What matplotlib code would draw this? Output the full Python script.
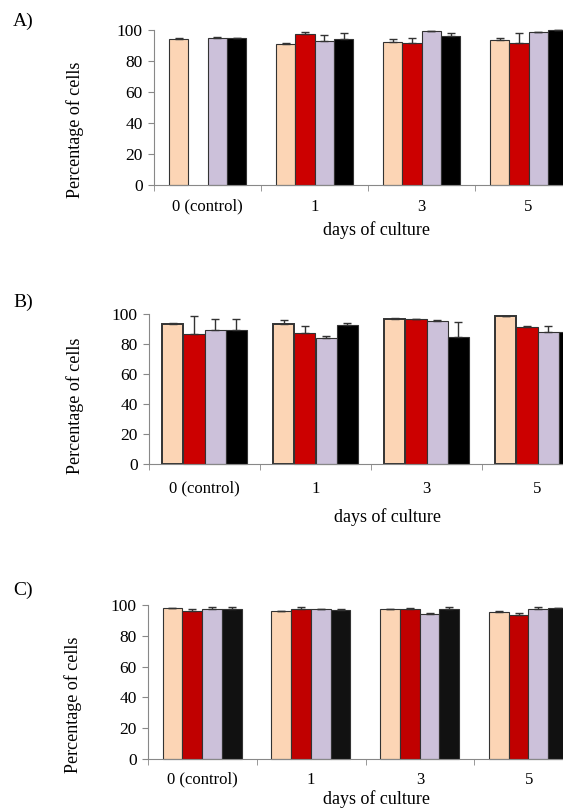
import numpy as np
import matplotlib
matplotlib.use("Agg")
import matplotlib.pyplot as plt

plt.rcParams['font.family'] = ['Liberation Serif', 'DejaVu Serif']

days = ["0 (control)", "1", "3", "5"]

# panel A: mean and upper error per group, one list per series
a_peach = [94.3, 91.2, 92.0, 93.5]
a_red = [np.nan, 97.4, 91.8, 91.6]
a_lilac = [94.9, 92.9, 99.1, 98.5]
a_black = [94.9, 94.0, 96.1, 99.8]
a_peach_err = [0.4, 0.5, 2.2, 1.2]
a_red_err = [0.0, 1.0, 2.8, 6.5]
a_lilac_err = [0.4, 4.0, 0.5, 0.3]
a_black_err = [0.0, 4.0, 2.0, 0.0]

# panel B
b_peach = [93.6, 93.1, 96.7, 98.5]
b_red = [86.4, 87.4, 96.5, 91.3]
b_lilac = [89.2, 83.8, 95.4, 88.3]
b_black = [89.2, 92.7, 84.5, 88.2]
b_peach_err = [0.4, 2.7, 0.4, 0.0]
b_red_err = [12.2, 4.8, 0.4, 0.4]
b_lilac_err = [7.3, 1.6, 0.9, 3.6]
b_black_err = [7.3, 1.4, 10.0, 0.0]

# panel C
c_peach = [97.9, 96.1, 97.4, 95.7]
c_red = [96.3, 97.2, 97.4, 93.5]
c_lilac = [97.2, 97.2, 94.4, 97.4]
c_black = [97.2, 97.0, 97.4, 97.8]
c_peach_err = [0.3, 0.3, 0.3, 0.3]
c_red_err = [0.9, 1.2, 0.9, 1.5]
c_lilac_err = [1.2, 0.3, 0.3, 1.6]
c_black_err = [1.2, 0.3, 1.6, 0.3]


def panel(fig, rect, series, errs, colors, edgew, bw, off, pad, ylab_pos, xlab_pos):
    ax = fig.add_axes(rect)
    x = np.arange(len(days))
    for k in range(4):
        pos = x + off + bw * k
        ax.bar(pos, series[k], width=bw, align="edge", color=colors[k],
               edgecolor="#333333", linewidth=edgew[k], zorder=2, clip_on=False)
        e = np.array(errs[k])
        ax.errorbar(pos + bw / 2, series[k], yerr=[np.zeros_like(e), e], fmt="none",
                    ecolor="#333333", elinewidth=1, capsize=3, capthick=1,
                    zorder=3, clip_on=False)
    ax.set_xlim(0, 4)
    ax.set_ylim(0, 100)
    ax.set_yticks(range(0, 101, 20))
    ax.set_xticks(x + 0.5)
    ax.set_xticklabels(days)
    ax.set_xticks(np.arange(0, 5), minor=True)
    ax.tick_params(axis="x", which="major", length=0, pad=pad, labelsize=12)
    ax.tick_params(axis="x", which="minor", length=4, color="#888888")
    ax.tick_params(axis="y", length=4, color="#888888", labelsize=12.5, pad=4)
    for s in ["top", "right"]:
        ax.spines[s].set_visible(False)
    for s in ["left", "bottom"]:
        ax.spines[s].set_color("#888888")
    ax.set_ylabel("Percentage of cells", fontsize=13)
    ax.yaxis.set_label_coords(*ylab_pos)
    ax.set_xlabel("days of culture", fontsize=13)
    ax.xaxis.set_label_coords(*xlab_pos)
    return ax


W, H = 563, 810
fig = plt.figure(figsize=(W / 100, H / 100), dpi=100)


def rect(left, right, top, bottom):
    return [left / W, 1 - bottom / H, (right - left) / W, (bottom - top) / H]


panel(fig, rect(154, 582, 30, 185),
      [a_peach, a_red, a_lilac, a_black],
      [a_peach_err, a_red_err, a_lilac_err, a_black_err],
      ["#FCD5B5", "#CC0000", "#CCC1DA", "#000000"], [0.8, 0.8, 0.8, 0.8],
      0.181, 0.14, 10, (-0.164, 0.355), (0.519, -0.235))

panel(fig, rect(149, 593, 314, 464),
      [b_peach, b_red, b_lilac, b_black],
      [b_peach_err, b_red_err, b_lilac_err, b_black_err],
      ["#FCD5B5", "#CC0000", "#CCC1DA", "#000000"], [1.4, 0.8, 0.8, 0.8],
      0.19, 0.12, 12, (-0.146, 0.39), (0.538, -0.295))

panel(fig, rect(148, 583, 605, 759),
      [c_peach, c_red, c_lilac, c_black],
      [c_peach_err, c_red_err, c_lilac_err, c_black_err],
      ["#FCD5B5", "#C00000", "#CCC1DA", "#111111"], [0.8, 0.8, 0.8, 0.8],
      0.182, 0.134, 9, (-0.152, 0.35), (0.525, -0.20))

for lab, y in [("A)", 21), ("B)", 302), ("C)", 590)]:
    fig.text(13 / W, 1 - y / H, lab, fontsize=14, va="center", ha="left")

fig.savefig("out.png", dpi=100)
